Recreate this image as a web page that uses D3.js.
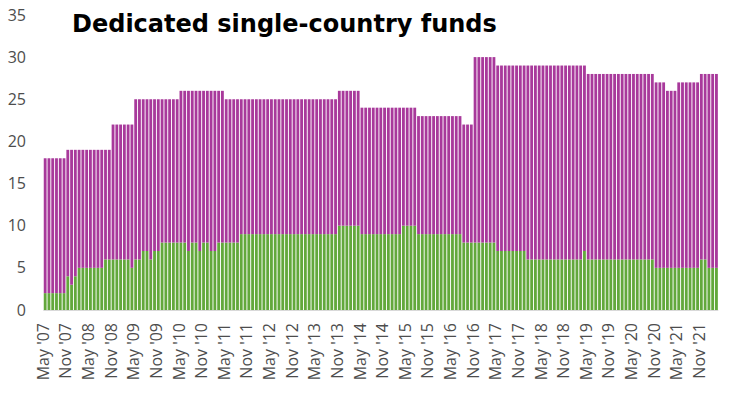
<!DOCTYPE html>
<html>
<head>
<meta charset="utf-8">
<script src="https://cdn.jsdelivr.net/npm/d3@7"></script>
<style>
  html, body { margin: 0; padding: 0; background: #fff; }
  svg { display: block; }
</style>
</head>
<body>
<svg id="chart" width="730" height="396"></svg>
<script>
// ---- Data ----
const titleText = "Dedicated single-country funds";
const startMonth = new Date(2007, 4, 1);   // May 2007
const endMonth = new Date(2022, 3, 1);     // exclusive: up to Mar 2022
const yTicks = [0, 5, 10, 15, 20, 25, 30, 35];

// Green (bottom) series, one value per month from May '07
const greenValues = [
  2,2,2,2,2,2,4,3,                 // 2007 May-Dec
  4,5,5,5,5,5,5,5,6,6,6,6,         // 2008
  6,6,6,5,6,6,7,7,6,7,7,8,         // 2009
  8,8,8,8,8,8,7,8,8,7,8,8,         // 2010
  7,7,8,8,8,8,8,8,9,9,9,9,         // 2011
  9,9,9,9,9,9,9,9,9,9,9,9,         // 2012
  9,9,9,9,9,9,9,9,9,9,10,10,       // 2013
  10,10,10,10,9,9,9,9,9,9,9,9,     // 2014
  9,9,9,10,10,10,10,9,9,9,9,9,     // 2015
  9,9,9,9,9,9,9,8,8,8,8,8,         // 2016
  8,8,8,8,7,7,7,7,7,7,7,7,         // 2017
  6,6,6,6,6,6,6,6,6,6,6,6,         // 2018
  6,6,6,7,6,6,6,6,6,6,6,6,         // 2019
  6,6,6,6,6,6,6,6,6,6,5,5,         // 2020
  5,5,5,5,5,5,5,5,5,5,6,6,         // 2021
  5,5,5                            // 2022 Jan-Mar
];

// Purple (top) series
const purpleValues = [
  16,16,16,16,16,16,15,16,                 // 2007 May-Dec
  15,14,14,14,14,14,14,14,13,13,16,16,     // 2008
  16,16,16,17,19,19,18,18,19,18,18,17,     // 2009
  17,17,17,17,18,18,19,18,18,19,18,18,     // 2010
  19,19,18,18,17,17,17,17,16,16,16,16,     // 2011
  16,16,16,16,16,16,16,16,16,16,16,16,     // 2012
  16,16,16,16,16,16,16,16,16,16,16,16,     // 2013
  16,16,16,16,15,15,15,15,15,15,15,15,     // 2014
  15,15,15,14,14,14,14,14,14,14,14,14,     // 2015
  14,14,14,14,14,14,14,14,14,14,22,22,     // 2016
  22,22,22,22,22,22,22,22,22,22,22,22,     // 2017
  23,23,23,23,23,23,23,23,23,23,23,23,     // 2018
  23,23,23,22,22,22,22,22,22,22,22,22,     // 2019
  22,22,22,22,22,22,22,22,22,22,22,22,     // 2020
  22,21,21,21,22,22,22,22,22,22,22,22,     // 2021
  23,23,23                                 // 2022 Jan-Mar
];

const seriesKeys = ["green", "purple"];
const seriesColors = { green: "#62a83b", purple: "#a8399b" };

// ---- Build table ----
const months = d3.timeMonth.range(startMonth, endMonth);
const table = months.map((m, i) => ({ month: m, green: greenValues[i], purple: purpleValues[i] }));
const fmt = d3.timeFormat("%b '%y");

// ---- Layout ----
const svg = d3.select("#chart");
const plotLeft = 43.3, plotRight = 718.3, plotBottom = 310;

const x = d3.scaleBand()
  .domain(months)
  .range([plotLeft, plotRight])
  .paddingInner(0.25)
  .paddingOuter(0.12);

const y = d3.scaleLinear().domain([0, 35]).range([plotBottom, plotBottom - 35 * 8.43]);

const stacked = d3.stack().keys(seriesKeys)(table);

svg.append("g")
  .selectAll("g")
  .data(stacked)
  .join("g")
  .attr("fill", d => seriesColors[d.key])
  .selectAll("rect")
  .data(d => d)
  .join("rect")
  .attr("x", d => x(d.data.month))
  .attr("width", x.bandwidth())
  .attr("y", d => y(d[1]))
  .attr("height", d => y(d[0]) - y(d[1]));

// baseline
svg.append("line")
  .attr("x1", plotLeft).attr("x2", plotRight)
  .attr("y1", plotBottom + 0.5).attr("y2", plotBottom + 0.5)
  .attr("stroke", "#d9d9d9").attr("stroke-width", 1);

// y axis labels
const yAxis = d3.axisLeft(y).tickValues(yTicks).tickSize(0).tickPadding(0);
const yG = svg.append("g").attr("transform", "translate(26,0)").call(yAxis);
yG.select(".domain").remove();
yG.selectAll("text")
  .attr("font-family", "'Open Sans', sans-serif")
  .attr("font-size", 16)
  .attr("fill", "#4d4d4d");

// x axis labels (every 6 months)
const tickMonths = months.filter((m, i) => i % 6 === 0);
const xAxis = d3.axisBottom(x).tickValues(tickMonths).tickFormat(fmt).tickSize(0);
const xG = svg.append("g").attr("transform", `translate(0,${plotBottom})`).call(xAxis);
xG.select(".domain").remove();
xG.selectAll("text")
  .attr("font-family", "'Open Sans', sans-serif")
  .attr("font-size", 16)
  .attr("fill", "#4d4d4d")
  .attr("text-anchor", "end")
  .attr("transform", "translate(-2,13) rotate(-90)")
  .attr("x", 0)
  .attr("y", 0)
  .attr("dy", "0.35em");

// title
svg.append("text")
  .attr("x", 72)
  .attr("y", 32)
  .attr("font-family", "'DejaVu Sans', sans-serif")
  .attr("font-weight", 700)
  .attr("font-size", 24)
  .attr("fill", "#000")
  .text(titleText);
</script>
</body>
</html>
